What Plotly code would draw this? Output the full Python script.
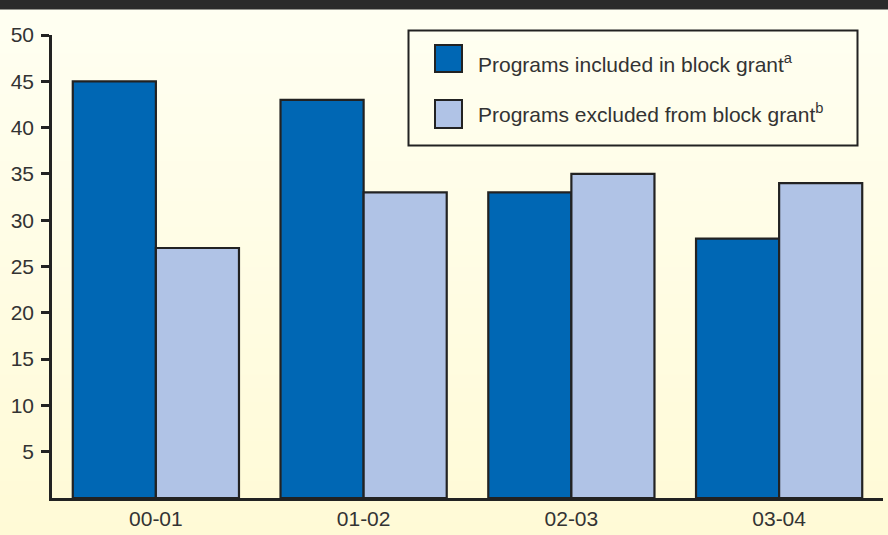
import plotly.graph_objects as go

# Fiscal years and percentages for the two program groups
years = ["00-01", "01-02", "02-03", "03-04"]
included = [45, 43, 33, 28]
excluded = [27, 33, 35, 34]
y_ticks = [5, 10, 15, 20, 25, 30, 35, 40, 45, 50]
legend_names = ["Programs included in block grant<sup>a</sup>",
                "Programs excluded from block grant<sup>b</sup>"]

W, H = 888, 535
L, R, T, B = 52, 5, 35, 37
DARK = "#0067B4"
LIGHT = "#B0C3E6"
INK = "#222222"
TEXT = "#333333"
FONT = "Liberation Sans, Arial, sans-serif"

pw, ph = W - L - R, H - T - B


def px(x):
    return (x - L) / pw


def py(y):
    return 1 - (y - T) / ph


fig = go.Figure()
fig.add_bar(x=years, y=included, name="included", marker=dict(color=DARK, line=dict(color=INK, width=2.2)))
fig.add_bar(x=years, y=excluded, name="excluded", marker=dict(color=LIGHT, line=dict(color=INK, width=2.2)))

shapes = []
# soft vertical cream gradient behind everything
n = 40
top_c = (255, 255, 242)
bot_c = (255, 250, 214)
for i in range(n):
    f = i / (n - 1)
    c = tuple(round(top_c[k] + (bot_c[k] - top_c[k]) * f) for k in range(3))
    y0 = i * H / n
    y1 = (i + 1) * H / n + 1
    shapes.append(dict(type="rect", xref="paper", yref="paper", layer="below",
                       x0=px(0), x1=px(W), y0=py(y1), y1=py(y0),
                       fillcolor="rgb(%d,%d,%d)" % c, line=dict(width=0)))
# dark band across the top
shapes.append(dict(type="rect", xref="paper", yref="paper", layer="above",
                   x0=px(0), x1=px(W), y0=py(9.5), y1=py(0),
                   fillcolor="#2b2b2b", line=dict(width=0)))

# legend frame and swatches
shapes.append(dict(type="rect", xref="paper", yref="paper", layer="above",
                   x0=px(408.5), x1=px(857.5), y0=py(145.5), y1=py(30.5),
                   fillcolor="rgba(0,0,0,0)", line=dict(color=INK, width=2)))
annotations = []
rows = [(45, 72, DARK, 63), (100, 128, LIGHT, 113)]
for (s0, s1, col, ty), name in zip(rows, legend_names):
    shapes.append(dict(type="rect", xref="paper", yref="paper", layer="above",
                       x0=px(435), x1=px(462), y0=py(s1), y1=py(s0),
                       fillcolor=col, line=dict(color=INK, width=2)))
    annotations.append(dict(xref="paper", yref="paper", x=px(476), y=py(ty),
                            xanchor="left", yanchor="middle", showarrow=False,
                            text=name, font=dict(family=FONT, size=21, color=TEXT)))

fig.update_layout(
    width=W, height=H,
    margin=dict(l=L, r=R, t=T, b=B, pad=0, autoexpand=False),
    paper_bgcolor="rgba(0,0,0,0)",
    plot_bgcolor="rgba(0,0,0,0)",
    barmode="group", bargap=0.2, bargroupgap=0,
    showlegend=False,
    font=dict(family=FONT, size=21, color=TEXT),
    shapes=shapes, annotations=annotations,
    xaxis=dict(type="category", range=[-0.5, 3.5], showline=True, linecolor=INK, linewidth=3,
               ticks="", showgrid=False, zeroline=False, automargin=False,
               tickfont=dict(family=FONT, size=21, color=TEXT)),
    yaxis=dict(range=[0, 50], showline=True, linecolor=INK, linewidth=2.5,
               tickvals=y_ticks, ticks="outside", ticklen=8, tickwidth=2.5,
               tickcolor=INK, showgrid=False, zeroline=False, ticklabelstandoff=3,
               automargin=False,
               tickfont=dict(family=FONT, size=21, color=TEXT)),
)

fig.write_html("out.html")
